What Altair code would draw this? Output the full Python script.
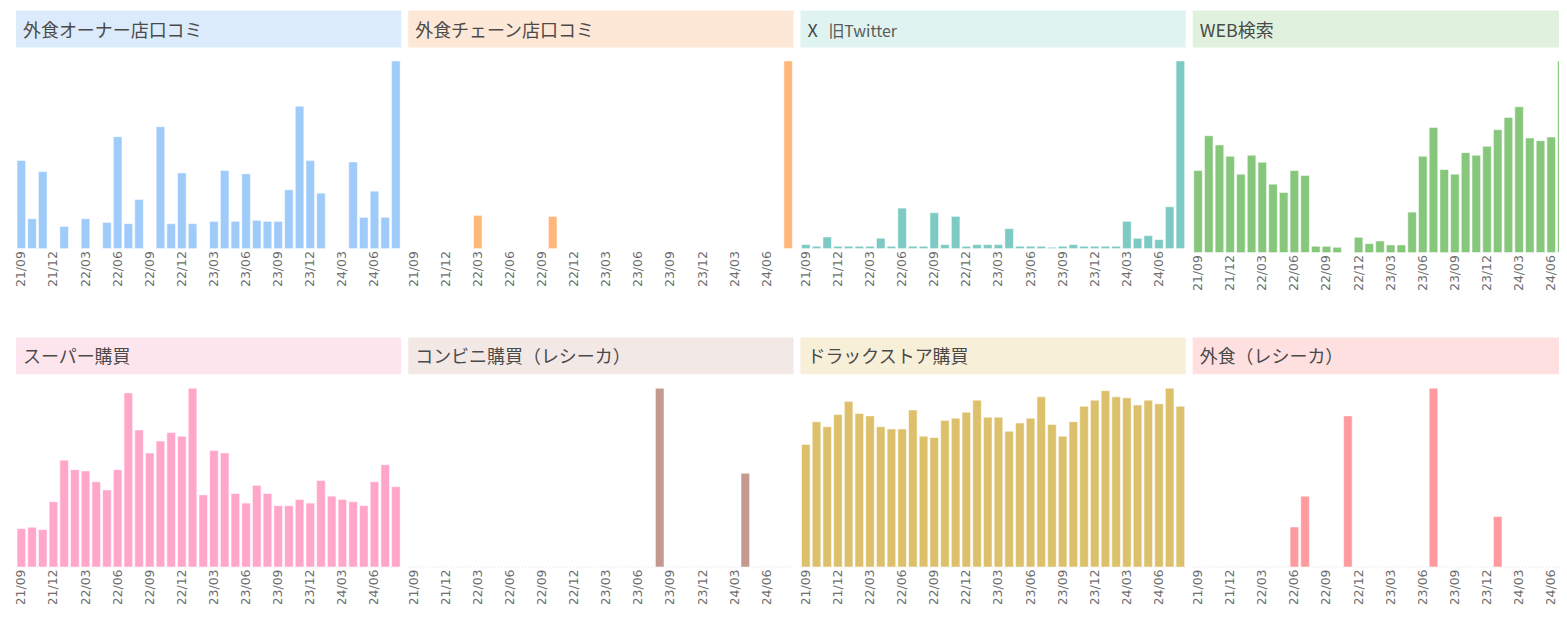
import altair as alt
import pandas as pd

FONT = "Noto Sans CJK JP"
AXFONT = "DejaVu Sans"

months = ["21/09", "21/10", "21/11", "21/12",
          "22/01", "22/02", "22/03", "22/04", "22/05", "22/06",
          "22/07", "22/08", "22/09", "22/10", "22/11", "22/12",
          "23/01", "23/02", "23/03", "23/04", "23/05", "23/06",
          "23/07", "23/08", "23/09", "23/10", "23/11", "23/12",
          "24/01", "24/02", "24/03", "24/04", "24/05", "24/06",
          "24/07", "24/08"]
tick_labels = ["21/09", "21/12", "22/03", "22/06", "22/09", "22/12",
               "23/03", "23/06", "23/09", "23/12", "24/03", "24/06"]

titles = ["外食オーナー店口コミ", "外食チェーン店口コミ", "X", "WEB検索",
          "スーパー購買", "コンビニ購買（レシーカ）", "ドラックストア購買", "外食（レシーカ）"]
subtitle_x = "旧Twitter"

owner = [265, 90, 232, 0, 67, 0, 90, 0, 79, 337, 75, 148, 0, 367, 75, 228, 75, 0,
         82, 235, 82, 225, 85, 82, 82, 177, 429, 265, 167, 0, 0, 261, 94, 173, 94, 565]
chain = [0, 0, 0, 0, 0, 0, 100, 0, 0, 0, 0, 0, 0, 97, 0, 0, 0, 0,
         0, 0, 0, 0, 0, 0, 0, 0, 0, 0, 0, 0, 0, 0, 0, 0, 0, 565]
twitter = [12, 7, 35, 7, 7, 7, 7, 31, 7, 122, 7, 7, 108, 12, 97, 7, 12, 12,
           12, 60, 7, 7, 7, 4, 7, 12, 7, 7, 7, 7, 82, 31, 39, 27, 126, 565]
web = [247, 352, 324, 290, 236, 293, 272, 206, 181, 247, 232, 19, 19, 16, 0, 46, 27, 35,
       23, 23, 122, 290, 377, 250, 236, 301, 293, 320, 370, 407, 439, 345, 337, 348, 577, 500]
supermarket = [117, 121, 114, 199, 326, 297, 293, 260, 235, 297, 531, 418, 348, 384, 410, 399, 545, 220,
               355, 348, 224, 195, 249, 224, 187, 187, 206, 195, 264, 216, 206, 199, 187, 260, 312, 245]
convenience = [0, 0, 0, 0, 0, 0, 0, 0, 0, 0, 0, 0, 0, 0, 0, 0, 0, 0,
               0, 0, 0, 0, 0, 545, 0, 0, 0, 0, 0, 0, 0, 286, 0, 0, 0, 0]
drugstore = [374, 443, 428, 465, 505, 468, 461, 428, 421, 421, 479, 399, 395, 447, 454, 472, 509, 457,
             457, 414, 439, 454, 519, 435, 399, 443, 490, 509, 538, 519, 516, 494, 509, 498, 545, 490]
dining = [0, 0, 0, 0, 0, 0, 0, 0, 0, 122, 216, 0, 0, 0, 461, 0, 0, 0,
          0, 0, 0, 0, 545, 0, 0, 0, 0, 0, 154, 0, 0, 0, 0, 0, 0, 0]

series = [owner, chain, twitter, web, supermarket, convenience, drugstore, dining]
bar_colors = ["#9ecbfa", "#ffb87a", "#7ccac3", "#86c77c",
              "#ffa6c9", "#c4998f", "#dcc06b", "#ff9b9f"]
bg_colors = ["#dcebfc", "#fde7d6", "#dff3f1", "#e0f2de",
             "#fde5ee", "#f2e9e7", "#f7efd7", "#fee0e1"]

W = 386
TITLE_H = 37


def panel(i, plot_h, gap, bottom_row):
    top = TITLE_H + gap
    total_h = top + plot_h
    df = pd.DataFrame({"month": months, "v": series[i]})
    axis = alt.Axis(values=tick_labels, labelAngle=270, title=None, ticks=False,
                    domain=False, labelColor="#6e6e6e", labelFont=AXFONT,
                    labelFontSize=12.5, labelPadding=2, grid=False)
    yscale = alt.Scale(nice=False, zero=True, range=[total_h, top])
    bars = alt.Chart(df).transform_filter("datum.v > 0").mark_bar(
        color=bar_colors[i], stroke="white", strokeWidth=1, strokeOpacity=0.5
    ).encode(
        x=alt.X("month:O", sort=months,
                scale=alt.Scale(domain=months, paddingInner=0.2, paddingOuter=0.1),
                axis=axis),
        y=alt.Y("v:Q", axis=None, scale=yscale),
    )
    tdf = pd.DataFrame({"t": [titles[i]]})
    band = alt.Chart(tdf).mark_rect(color=bg_colors[i]).encode(
        x=alt.value(0), x2=alt.value(W), y=alt.value(0), y2=alt.value(TITLE_H))
    text = alt.Chart(tdf).mark_text(align="left", baseline="alphabetic", font=FONT,
                                    fontSize=18, color="#4a4a4a").encode(
        x=alt.value(7), y=alt.value(26), text="t:N")
    layers = [band, text]
    if i == 2:
        sub = alt.Chart(pd.DataFrame({"t": [subtitle_x]})).mark_text(
            align="left", baseline="alphabetic", font=FONT, fontSize=16,
            color="#5a5a5a").encode(x=alt.value(28), y=alt.value(26), text="t:N")
        layers.append(sub)
    if bottom_row:
        base = alt.Chart(tdf).mark_rule(color="#e0e0e0", strokeDash=[1, 2],
                                         strokeWidth=1).encode(
            x=alt.value(0), x2=alt.value(W), y=alt.value(total_h))
        layers.append(base)
    layers.append(bars)
    return alt.layer(*layers).properties(width=W, height=total_h)


panels = []
for i in range(4):
    panels.append(panel(i, 192 if i == 3 else 188, 13.5, False))
for i in range(4, 8):
    panels.append(panel(i, 179, 14, True))

# the right-most column runs past the page edge, as in the reference
chart = alt.concat(*panels, columns=4, spacing={"row": 84.5, "column": 7},
                   bounds="flush").properties(
    padding={"left": 6, "top": 1, "right": -20, "bottom": -3},
    background="white",
).configure_view(stroke="transparent")

chart.save("out.html", embed_options={"renderer": "svg", "actions": False})
